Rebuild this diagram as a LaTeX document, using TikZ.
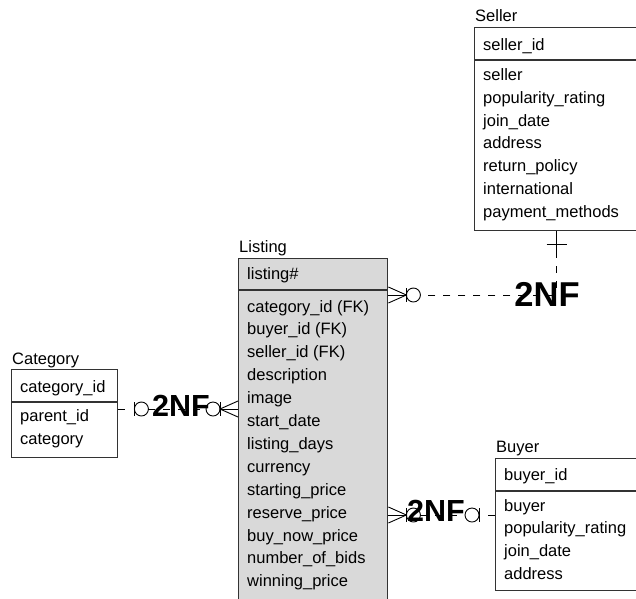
\documentclass[tikz,border=0pt]{standalone}
\usepackage{fontspec}
\setmainfont{Liberation Sans}
\newfontfamily\nffont{Liberation Sans Bold}
\definecolor{boxline}{HTML}{333333}
\definecolor{listfill}{HTML}{D9D9D9}
\begin{document}
\begin{tikzpicture}[x=1pt,y=-1pt,
  ent/.style={draw=boxline,line width=1.4pt,inner sep=0pt,anchor=north west},
  sepline/.style={draw=boxline,line width=1.4pt},
  fld/.style={anchor=base west,inner sep=0pt,font=\fontsize{16.5}{19}\selectfont},
  nf/.style={inner sep=0pt,font=\nffont\fontsize{30.5}{32}\selectfont},
  nfbig/.style={inner sep=0pt,font=\nffont\fontsize{34.5}{36}\selectfont},
  rel/.style={line width=0.9pt,black},
  dsh/.style={rel,dash pattern=on 7pt off 8pt},
  manyopt/.pic={
    \draw[rel] (0,-8) -- (18,0) -- (0,8);
    \draw[rel] (0,0) -- (18,0);
    \draw[rel] (18,-7) -- (18,7);
    \draw[rel] (25,0) circle[radius=7];
  },
  oneopt/.pic={
    \draw[rel] (0,0) -- (7,0);
    \draw[rel] (16,-7) -- (16,7);
    \draw[rel] (23,0) circle[radius=7];
  }]
\useasboundingbox (0,0) rectangle (636,598);
\clip (0,0) rectangle (636,598);

% ---------- Seller ----------
\node[fld] (sellerlbl) at (475,21) {Seller};
\node[ent,minimum width=164pt,minimum height=203pt] (seller) at (474,27) {};
\draw[sepline] (seller.west |- 0,60) -- (seller.east |- 0,60);
\node[fld] (sk) at (483,50) {seller\_id};
\foreach \t [count=\i] in {seller,popularity\_rating,join\_date,address,return\_policy,international,payment\_methods}
  \node[fld] (s\i) at (483,{80.5+(\i-1)*22.8}) {\t};

% ---------- Listing ----------
\node[fld] (listinglbl) at (239,252) {Listing};
\node[ent,fill=listfill,minimum width=149pt,minimum height=360pt] (listing) at (238,258) {};
\draw[sepline] (listing.west |- 0,290) -- (listing.east |- 0,290);
\node[fld] (lk) at (247,279.5) {listing\#};
\foreach \t [count=\i] in {category\_id (FK),buyer\_id (FK),seller\_id (FK),description,image,start\_date,listing\_days,currency,starting\_price,reserve\_price,buy\_now\_price,number\_of\_bids,winning\_price}
  \node[fld] (l\i) at (247,{312+(\i-1)*22.9}) {\t};

% ---------- Category ----------
\node[fld] (categorylbl) at (12,364) {Category};
\node[ent,minimum width=106pt,minimum height=88pt] (category) at (11,369) {};
\draw[sepline] (category.west |- 0,402) -- (category.east |- 0,402);
\node[fld] (ck) at (20,392) {category\_id};
\node[fld] (c1) at (20,421) {parent\_id};
\node[fld] (c2) at (20,444.5) {category};

% ---------- Buyer ----------
\node[fld] (buyerlbl) at (496,452) {Buyer};
\node[ent,minimum width=145pt,minimum height=132pt] (buyer) at (495,458) {};
\draw[sepline] (buyer.west |- 0,491) -- (buyer.east |- 0,491);
\node[fld] (bk) at (504,480) {buyer\_id};
\foreach \t [count=\i] in {buyer,popularity\_rating,join\_date,address}
  \node[fld] (b\i) at (504,{511+(\i-1)*22.8}) {\t};

% ---------- 2NF labels ----------
\node[nfbig] (nfS) at (547,294) {2NF};
\node[nf] (nfC) at (181,405.5) {2NF};
\node[nf] (nfB) at (436,510.5) {2NF};

% ---------- connectors ----------
\coordinate (aL) at (listing.east |- 0,295);
\coordinate (cC) at (category.east |- 0,409);
\coordinate (cL) at (listing.west |- 0,409);
\coordinate (bL) at (listing.east |- 0,515);
\coordinate (bB) at (buyer.west |- 0,515);

% Seller -- Listing
\draw[rel] (seller.south) -- ([shift={(0,20)}]seller.south);
\draw[rel] ([shift={(-10,13)}]seller.south) -- ([shift={(10,13)}]seller.south);
\draw[dsh] ([shift={(0,20)}]seller.south) |- ([shift={(32,0)}]aL);
\pic at (aL) {manyopt};

% Category -- Listing
\pic at (cC) {oneopt};
\pic[xscale=-1] at (cL) {manyopt};
\draw[dsh] ([shift={(30,0)}]cC) -- ([shift={(-32,0)}]cL);

% Listing -- Buyer
\pic at (bL) {manyopt};
\pic[xscale=-1] at (bB) {oneopt};
\draw[dsh] ([shift={(32,0)}]bL) -- ([shift={(-30,0)}]bB);
\end{tikzpicture}
\end{document}
